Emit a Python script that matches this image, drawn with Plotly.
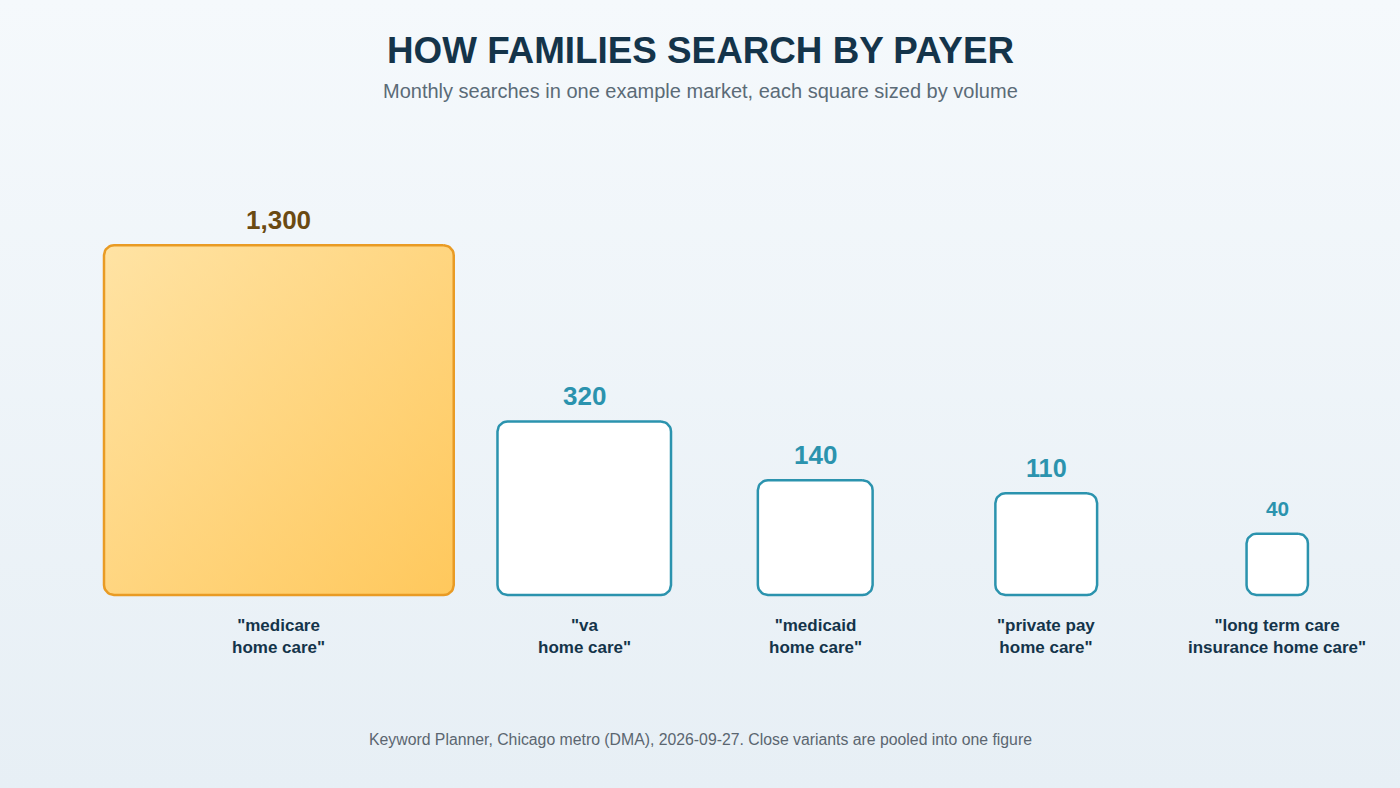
import math
import plotly.graph_objects as go

# ---------------- data ----------------
categories = [
    '"medicare<br>home care"',
    '"va<br>home care"',
    '"medicaid<br>home care"',
    '"private pay<br>home care"',
    '"long term care<br>insurance home care"',
]
volumes = [1300, 320, 140, 110, 40]
value_labels = ["1,300", "320", "140", "110", "40"]
highlight = [True, False, False, False, False]

TITLE = "HOW FAMILIES SEARCH BY PAYER"
SUBTITLE = "Monthly searches in one example market, each square sized by volume"
FOOTER = "Keyword Planner, Chicago metro (DMA), 2026-09-27. Close variants are pooled into one figure"

# ---------------- layout constants ----------------
W, H = 1400, 788
SCALE = 9.7          # px of side per sqrt(search volume) -> area proportional to volume
BASE_Y = 595         # common bottom edge of the squares
MIN_SLOT = 231
SLOT_PAD = 30
ROW_LEFT = 89
FONT = "Liberation Sans, Arial, Helvetica, sans-serif"

TEAL = "#2B93AE"
GOLD_EDGE = "#E99B24"
NAVY = "#14344A"
GOLD_LIGHT = (255, 227, 164)
GOLD_DARK = (255, 200, 92)

sides = [SCALE * math.sqrt(v) for v in volumes]
slots = [max(MIN_SLOT, s + SLOT_PAD) for s in sides]
centers = []
cur = ROW_LEFT
for w in slots:
    centers.append(cur + w / 2)
    cur += w


def rgba(c, a=1.0):
    return "rgba(%d,%d,%d,%s)" % (c[0], c[1], c[2], a)


def rounded_square(cx, bottom, side, r, n=10):
    x0, x1 = cx - side / 2, cx + side / 2
    y1 = bottom
    y0 = bottom - side
    xs, ys = [], []
    corners = [
        (x1 - r, y0 + r, -90, 0),    # top-right (y axis reversed)
        (x1 - r, y1 - r, 0, 90),     # bottom-right
        (x0 + r, y1 - r, 90, 180),   # bottom-left
        (x0 + r, y0 + r, 180, 270),  # top-left
    ]
    for ccx, ccy, a0, a1 in corners:
        for i in range(n + 1):
            a = math.radians(a0 + (a1 - a0) * i / n)
            xs.append(ccx + r * math.cos(a))
            ys.append(ccy + r * math.sin(a))
    xs.append(xs[0])
    ys.append(ys[0])
    return xs, ys


fig = go.Figure()

# background gradient (light at top, slightly bluer at bottom)
fig.add_trace(go.Scatter(
    x=[0, W, W, 0, 0], y=[0, 0, H, H, 0],
    mode="lines", line=dict(width=0), fill="toself",
    fillgradient=dict(type="vertical",
                      colorscale=[[0, "#E7EFF5"], [1, "#F5F9FC"]]),
    hoverinfo="skip", showlegend=False,
))

annotations = []
for cat, v, lab, hi, side, cx in zip(categories, volumes, value_labels, highlight, sides, centers):
    r = min(10, side * 0.16)
    xs, ys = rounded_square(cx, BASE_Y, side, r)
    if hi:
        # horizontal gradient + half-transparent vertical gradient -> diagonal look
        fig.add_trace(go.Scatter(
            x=xs, y=ys, mode="lines", fill="toself",
            line=dict(color=GOLD_EDGE, width=0),
            fillgradient=dict(type="horizontal",
                              colorscale=[[0, rgba(GOLD_LIGHT)], [1, rgba(GOLD_DARK)]]),
            hoverinfo="skip", showlegend=False,
        ))
        fig.add_trace(go.Scatter(
            x=xs, y=ys, mode="lines", fill="toself",
            line=dict(color=GOLD_EDGE, width=2.5),
            fillgradient=dict(type="vertical",
                              colorscale=[[0, rgba(GOLD_DARK, 0.5)], [1, rgba(GOLD_LIGHT, 0.5)]]),
            hoverinfo="skip", showlegend=False,
        ))
    else:
        fig.add_trace(go.Scatter(
            x=xs, y=ys, mode="lines", fill="toself", fillcolor="#FFFFFF",
            line=dict(color=TEAL, width=2.5),
            hoverinfo="skip", showlegend=False,
        ))
    fsize = min(26, 14 + side * 0.11)
    annotations.append(dict(
        x=cx, y=BASE_Y - side - 25, xref="x", yref="y",
        text=lab, showarrow=False, xanchor="center", yanchor="middle",
        font=dict(family=FONT, size=fsize, weight=700,
                  color="#6B4A12" if hi else TEAL),
    ))
    annotations.append(dict(
        x=cx, y=BASE_Y + 41, xref="x", yref="y",
        text=cat, showarrow=False, xanchor="center", yanchor="middle",
        font=dict(family=FONT, size=17, weight=700, color=NAVY),
    ))

annotations += [
    dict(x=W / 2, y=50, xref="x", yref="y", text=TITLE, showarrow=False,
         xanchor="center", yanchor="middle",
         font=dict(family=FONT, size=36.8, weight=700, color=NAVY)),
    dict(x=W / 2, y=91, xref="x", yref="y", text=SUBTITLE, showarrow=False,
         xanchor="center", yanchor="middle",
         font=dict(family=FONT, size=20, color="#5B6B77")),
    dict(x=W / 2, y=739, xref="x", yref="y", text=FOOTER, showarrow=False,
         xanchor="center", yanchor="middle",
         font=dict(family=FONT, size=15.8, color="#5B6670")),
]

fig.update_layout(
    width=W, height=H,
    margin=dict(l=0, r=0, t=0, b=0),
    paper_bgcolor="#EEF4F8", plot_bgcolor="#EEF4F8",
    showlegend=False,
    xaxis=dict(range=[0, W], visible=False, fixedrange=True),
    yaxis=dict(range=[H, 0], visible=False, fixedrange=True),
    annotations=annotations,
)

fig.write_html(
    "out.html",
    config={"displayModeBar": False, "staticPlot": True},
    post_script="document.body.style.margin='0';document.body.style.overflow='hidden';",
)
